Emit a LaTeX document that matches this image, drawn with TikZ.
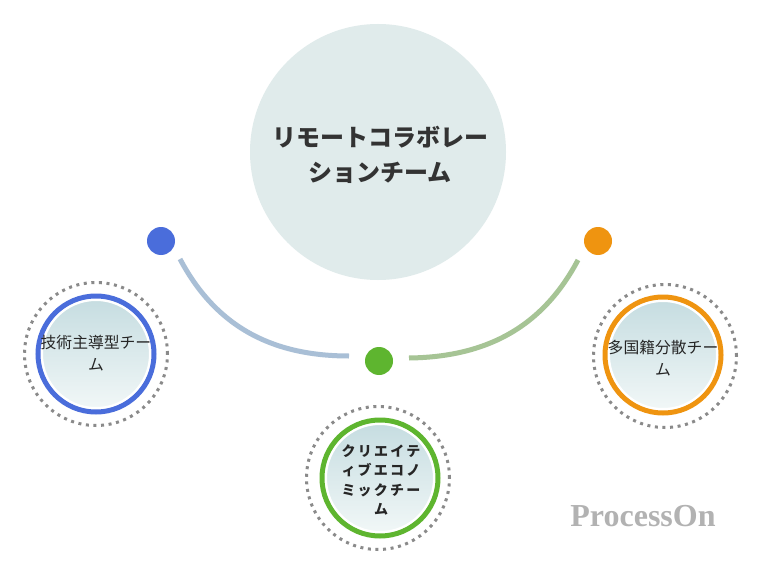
\documentclass[tikz,border=0pt]{standalone}
\usepackage{fontspec}
\setmainfont{Liberation Serif}
\newfontfamily\jp{Noto Sans CJK JP}
\newfontfamily\jpsp{Noto Sans CJK JP}[LetterSpace=16]
\definecolor{bigfill}{HTML}{E0EBEB}
\definecolor{cblue}{HTML}{4A6DDB}
\definecolor{cgreen}{HTML}{5EB52F}
\definecolor{corange}{HTML}{EF9410}
\definecolor{arcblue}{HTML}{A9BFD6}
\definecolor{arcgreen}{HTML}{A6C495}
\definecolor{shtop}{HTML}{C6DDE1}
\definecolor{shbot}{HTML}{F1F7F7}
\definecolor{dotgray}{HTML}{8A8A8A}
\definecolor{txt}{HTML}{333333}
\begin{document}
\begin{tikzpicture}[x=1pt,y=-1pt,
  dotring/.style={circle, draw=dotgray, line width=3pt, dash pattern=on 3pt off 4.6pt, minimum size=143pt, inner sep=0pt},
  ringc/.style={circle, draw=#1, line width=5pt, minimum size=116pt, inner sep=0pt},
  innerc/.style={circle, draw=white, line width=2pt, top color=shtop, bottom color=shbot, minimum size=108pt, inner sep=0pt},
  dotc/.style={circle, fill=#1, minimum size=28pt, inner sep=0pt},
  arcline/.style={line width=5pt, draw=#1},
  lbl/.style={align=center, text=black!85, font=\jp\fontsize{15.8pt}{22pt}\selectfont},
]
\useasboundingbox[fill=white] (0,0) rectangle (758,575);

% central circle
\node[circle, fill=bigfill, minimum size=256pt, inner sep=0pt] (main) at (378,152) {};
\node[align=center, text=txt, font=\jp\bfseries\fontsize{24pt}{35pt}\selectfont] (maintxt) at (380,155) {リモートコラボレー\\ションチーム};

% dots
\node[dotc=cblue] (bdot) at (161,241) {};
\node[dotc=corange] (odot) at (598,241) {};
\node[dotc=cgreen] (gdot) at (379,361) {};

% arcs
\coordinate (la) at (180,259);
\coordinate (lb) at (349,356);
\coordinate (ra) at (409,358);
\coordinate (rb) at (578,260);
\draw[arcline=arcblue] (la) .. controls (215,325) and (270,356) .. (lb);
\draw[arcline=arcgreen] (ra) .. controls (488,357) and (543,326) .. (rb);

% left team
\node[dotring] (lout) at (96,354) {};
\node[ringc=cblue] (lring) at (96,354) {};
\node[innerc] (lin) at (96,354) {};
\node[lbl] (ltxt) at (96,353) {技術主導型チー\\ム};

% middle team
\node[dotring] (mout) at (378,478) {};
\node[ringc=cgreen] (mring) at (380,478) {};
\node[innerc] (min) at (380,478) {};
\node[align=center, text=black!85, font=\jpsp\bfseries\fontsize{14pt}{19.5pt}\selectfont] (mtxt) at (381,480) {クリエイテ\\ィブエコノ\\ミックチー\\ム};

% right team
\node[dotring] (rout) at (665,356) {};
\node[ringc=corange] (rring) at (663,355) {};
\node[innerc] (rin) at (663,355) {};
\node[lbl] (rtxt) at (663,358) {多国籍分散チー\\ム};

% watermark
\node[text=black!30, font=\bfseries\fontsize{32pt}{36pt}\selectfont] (wm) at (643,516) {ProcessOn};
\end{tikzpicture}
\end{document}
